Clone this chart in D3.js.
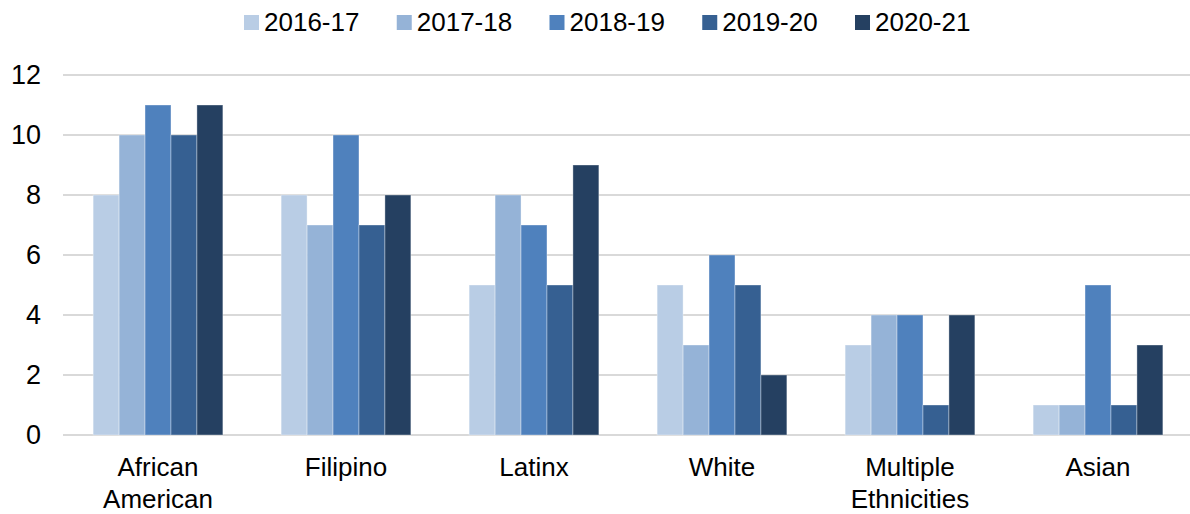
<!DOCTYPE html>
<html>
<head>
<meta charset="utf-8">
<script src="https://cdn.jsdelivr.net/npm/d3@7"></script>
<style>
  body { margin: 0; background: #fff; }
  text { font-family: "Liberation Sans", Arial, sans-serif; fill: #000; }
</style>
</head>
<body>
<svg id="chart" width="1190" height="514"></svg>
<script>
const categories = [['African', 'American'], ['Filipino'], ['Latinx'], ['White'], ['Multiple', 'Ethnicities'], ['Asian']];
const years = ['2016-17', '2017-18', '2018-19', '2019-20', '2020-21'];
const colors = ['#b9cde5', '#95b3d7', '#4f81bd', '#366092', '#254061'];
const yTicks = [0, 2, 4, 6, 8, 10, 12];

// one array per year, in category order
const y2016 = [8, 8, 5, 5, 3, 1];
const y2017 = [10, 7, 8, 3, 4, 1];
const y2018 = [11, 10, 7, 6, 4, 5];
const y2019 = [10, 7, 5, 5, 1, 1];
const y2020 = [11, 8, 9, 2, 4, 3];
const series = [y2016, y2017, y2018, y2019, y2020];

const svg = d3.select('#chart');

let x0 = d3.scaleBand()
  .domain(d3.range(categories.length))
  .range([64, 1192])
  .paddingInner(0.31)
  .paddingOuter(0.155);

let x1 = d3.scaleBand()
  .domain(d3.range(years.length))
  .range([0, x0.bandwidth()]);

let y = d3.scaleLinear()
  .domain([0, 12])
  .range([435, 75]);

// gridlines
svg.append('g')
  .selectAll('line')
  .data(yTicks)
  .enter().append('line')
  .attr('x1', 63)
  .attr('x2', 1190)
  .attr('y1', d => y(d))
  .attr('y2', d => y(d))
  .attr('stroke', '#d9d9d9')
  .attr('stroke-width', 2);

// y labels
svg.append('g')
  .selectAll('text')
  .data(yTicks)
  .enter().append('text')
  .attr('x', 41)
  .attr('y', d => y(d))
  .attr('dy', '0.35em')
  .attr('text-anchor', 'end')
  .style('font-size', '27px')
  .text(d => d);

// bars
let groups = svg.append('g')
  .selectAll('g')
  .data(series)
  .enter().append('g')
  .attr('fill', (d, i) => colors[i]);

groups.each(function (vals, si) {
  d3.select(this).selectAll('rect')
    .data(vals)
    .enter().append('rect')
    .attr('x', (d, ci) => x0(ci) + x1(si))
    .attr('y', d => y(d))
    .attr('width', x1.bandwidth())
    .attr('height', d => y(0) - y(d))
    .attr('stroke', 'rgba(255,255,255,0.35)')
    .attr('stroke-width', 1);
});

// category labels
let cat = svg.append('g')
  .selectAll('text')
  .data(categories)
  .enter().append('text')
  .attr('x', (d, i) => x0(i) + x0.bandwidth() / 2)
  .attr('y', 476)
  .attr('text-anchor', 'middle')
  .style('font-size', '26px');

cat.selectAll('tspan')
  .data(d => d)
  .enter().append('tspan')
  .attr('x', function () { return d3.select(this.parentNode).attr('x'); })
  .attr('dy', (d, i) => i === 0 ? 0 : 32)
  .text(d => d);

// legend
let legend = svg.append('g')
  .selectAll('g')
  .data(years)
  .enter().append('g')
  .attr('transform', (d, i) => 'translate(' + (244 + i * 152.75) + ',0)');

legend.append('rect')
  .attr('x', 0)
  .attr('y', 15)
  .attr('width', 15)
  .attr('height', 15)
  .attr('fill', (d, i) => colors[i]);

legend.append('text')
  .attr('x', 20)
  .attr('y', 31)
  .style('font-size', '26px')
  .text(d => d);
</script>
</body>
</html>
